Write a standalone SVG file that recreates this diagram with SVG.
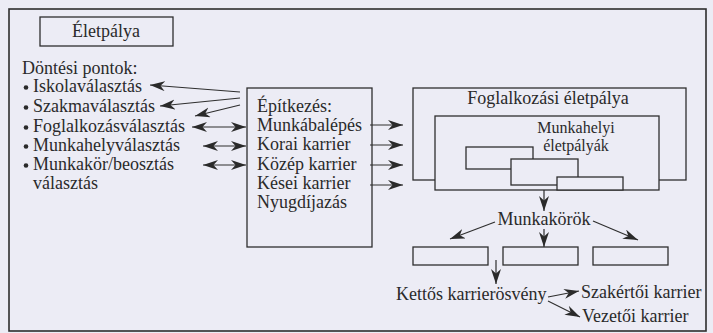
<svg xmlns="http://www.w3.org/2000/svg" width="713" height="333" viewBox="0 0 713 333">
<defs>
<style>
text{font-family:'Liberation Serif','DejaVu Serif',serif;font-size:18px;fill:#2a2a2a}
.mid{text-anchor:middle}
.sm{font-size:16px}
.box{fill:#ececf5;stroke:#2e2e2e;stroke-width:1.3}
.ln{fill:none;stroke:#2e2e2e;stroke-width:1.2}
.ar{marker-end:url(#ah)}
.dar{marker-end:url(#ah);marker-start:url(#ah)}
</style>
<marker id="ah" markerUnits="userSpaceOnUse" markerWidth="17" markerHeight="11" refX="15" refY="5" orient="auto-start-reverse">
<path d="M0,0 L15,5 L0,10 L4.5,5 z" fill="#2a2a2a"/>
</marker>
</defs>
<rect x="0" y="0" width="713" height="333" fill="#ececf5"/>
<rect x="9" y="9" width="697" height="322" fill="none" stroke="#2e2e2e" stroke-width="1.6"/>

<g id="eletpalya">
<rect class="box" x="40" y="17" width="133" height="29"/>
<text class="mid" x="106" y="37">Életpálya</text>
</g>

<g id="dontesi">
<text x="22" y="74">Döntési pontok:</text>
<circle cx="26" cy="87.5" r="2.3" fill="#2a2a2a"/>
<text x="33" y="92">Iskolaválasztás</text>
<circle cx="26" cy="107.5" r="2.3" fill="#2a2a2a"/>
<text x="33" y="112">Szakmaválasztás</text>
<circle cx="26" cy="127.5" r="2.3" fill="#2a2a2a"/>
<text x="33" y="132">Foglalkozásválasztás</text>
<circle cx="26" cy="146.5" r="2.3" fill="#2a2a2a"/>
<text x="33" y="151">Munkahelyválasztás</text>
<circle cx="26" cy="165.5" r="2.3" fill="#2a2a2a"/>
<text x="33" y="170">Munkakör/beosztás</text>
<text x="33" y="189">választás</text>
</g>

<g id="epitkezes">
<rect class="box" x="247" y="88" width="125" height="159"/>
<text x="257" y="112">Építkezés:</text>
<text x="257" y="131">Munkábalépés</text>
<text x="257" y="150">Korai karrier</text>
<text x="257" y="170">Közép karrier</text>
<text x="257" y="189">Kései karrier</text>
<text x="257" y="208">Nyugdíjazás</text>
</g>

<g id="foglalkozasi">
<rect class="box" x="413" y="88" width="273" height="92"/>
<text class="mid" x="548" y="104">Foglalkozási életpálya</text>
</g>

<g id="munkahelyi">
<rect class="box" x="435" y="116" width="224" height="74"/>
<text class="mid sm" x="576" y="133">Munkahelyi</text>
<text class="mid sm" x="576" y="151">életpályák</text>
<rect class="box" x="466" y="147" width="67" height="22"/>
<rect class="box" x="511" y="159" width="67" height="26"/>
<rect class="box" x="557" y="177" width="66" height="13"/>
</g>

<g id="munkakorok">
<text class="mid" x="544" y="225">Munkakörök</text>
</g>

<g id="kor1"><rect class="box" x="413" y="247" width="75" height="18"/></g>
<g id="kor2"><rect class="box" x="503" y="247" width="75" height="18"/></g>
<g id="kor3"><rect class="box" x="593" y="247" width="75" height="18"/></g>

<g id="kettos"><text x="396" y="300">Kettős karrierösvény</text></g>
<g id="szakertoi"><text x="581" y="298">Szakértői karrier</text></g>
<g id="vezetoi"><text x="582" y="322">Vezetői karrier</text></g>

<g id="connectors">
<line class="ln ar" x1="240" y1="92" x2="150" y2="85"/>
<line class="ln ar" x1="240" y1="98" x2="160" y2="106"/>
<line class="ln ar" x1="240" y1="105" x2="195" y2="116"/>
<line class="ln dar" x1="192" y1="127" x2="246" y2="127"/>
<line class="ln dar" x1="203" y1="146" x2="246" y2="146"/>
<line class="ln dar" x1="203" y1="165" x2="246" y2="165"/>
<line class="ln ar" x1="370" y1="125" x2="403" y2="125"/>
<line class="ln ar" x1="370" y1="145" x2="403" y2="145"/>
<line class="ln ar" x1="370" y1="165" x2="403" y2="165"/>
<line class="ln ar" x1="370" y1="185" x2="403" y2="185"/>
<line class="ln ar" x1="544" y1="190" x2="544" y2="211"/>
<line class="ln ar" x1="495" y1="222" x2="450" y2="239"/>
<line class="ln ar" x1="544" y1="229" x2="544" y2="247"/>
<line class="ln ar" x1="593" y1="221" x2="638" y2="240"/>
<line class="ln ar" x1="496" y1="260" x2="496" y2="284"/>
<line class="ln ar" x1="548" y1="297" x2="579" y2="291"/>
<line class="ln ar" x1="548" y1="301" x2="580" y2="317"/>
</g>
</svg>
